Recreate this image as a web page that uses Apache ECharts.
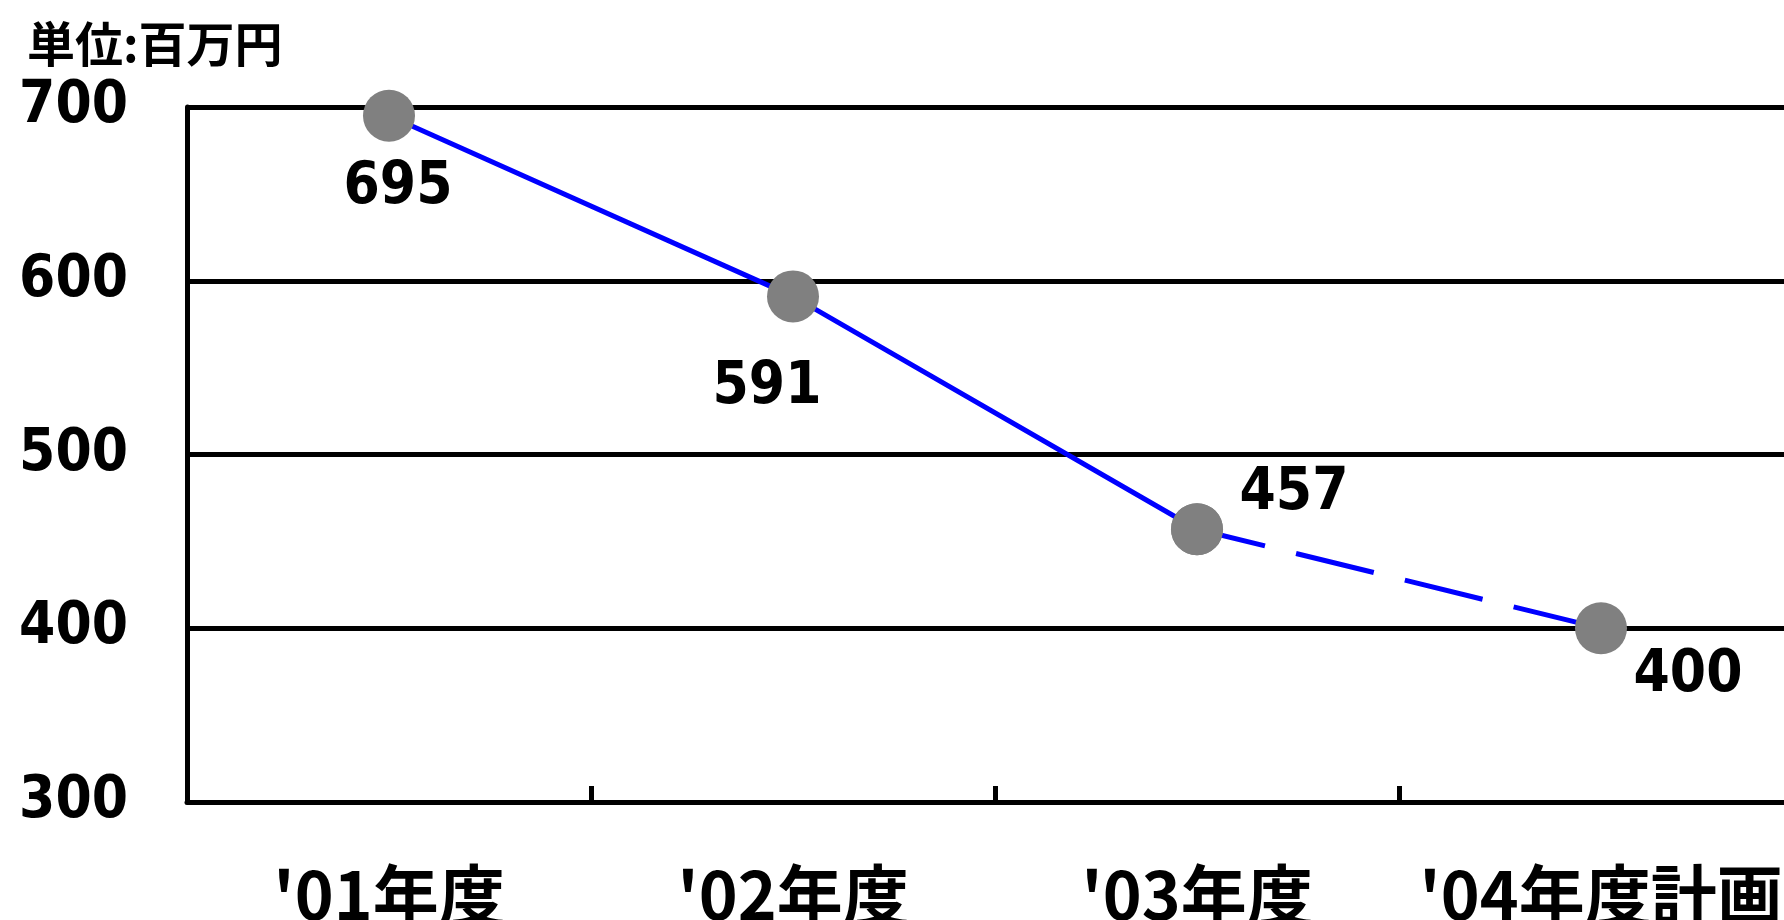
<!DOCTYPE html>
<html>
<head>
<meta charset="utf-8">
<script src="https://cdn.jsdelivr.net/npm/echarts@6/dist/echarts.min.js"></script>
<style>
html,body{margin:0;padding:0;background:#fff;overflow:hidden;width:1784px;height:920px;}
#chart{width:1804px;height:920px;}
</style>
</head>
<body>
<div id="chart"></div>
<script>
// ---- data ----
const categories = ["'01年度", "'02年度", "'03年度", "'04年度計画"];
const actualValues = [695, 591, 457, null];   // solid line (実績)
const planValues = [null, null, 457, 400];    // dashed line (計画)
const unitLabel = "単位:百万円";
const yMin = 300, yMax = 700, yStep = 100;

// ---- styling (label offsets relative to point centers) ----
const labelOffsets = [[9, 72], [-26, 92], [97, -35], [87, 48]];
const numFont = "'DejaVu Sans Condensed', 'Liberation Sans', sans-serif";
const cjkFont = "'Noto Sans CJK JP', sans-serif";

function buildData(values, labelIdx) {
  return values.map((v, i) => {
    if (v === null) return '-';
    const show = labelIdx.indexOf(i) >= 0;
    return {
      value: v,
      label: show ? {
        show: true,
        position: 'inside',
        offset: labelOffsets[i],
        formatter: '{c}',
        fontFamily: numFont,
        fontWeight: 'bold',
        fontSize: 58,
        color: '#000'
      } : { show: false }
    };
  });
}

const chart = echarts.init(document.getElementById('chart'));
chart.setOption({
  animation: false,
  backgroundColor: '#ffffff',
  title: {
    text: unitLabel,
    left: 27,
    top: 20,
    padding: 0,
    textStyle: { fontFamily: cjkFont, fontWeight: 'bold', fontSize: 48, color: '#000' }
  },
  grid: { left: 187, top: 107, width: 1616, bottom: 118, containLabel: false, outerBoundsMode: 'none' },
  xAxis: {
    type: 'category',
    data: categories,
    boundaryGap: true,
    axisLine: { show: true, lineStyle: { color: '#000', width: 5 } },
    axisTick: { show: true, inside: true, length: 16, interval: 0, lineStyle: { color: '#000', width: 5 } },
    axisLabel: {
      interval: 0,
      margin: 60,
      fontFamily: cjkFont,
      fontWeight: 'bold',
      fontSize: 66,
      color: '#000'
    },
    splitLine: { show: false }
  },
  yAxis: {
    type: 'value',
    min: yMin,
    max: yMax,
    interval: yStep,
    axisLine: { show: true, lineStyle: { color: '#000', width: 5 } },
    axisTick: { show: false },
    axisLabel: {
      margin: 59,
      fontFamily: numFont,
      fontWeight: 'bold',
      fontSize: 58,
      color: '#000'
    },
    splitLine: { show: true, lineStyle: { color: '#000', width: 5 } }
  },
  series: [
    {
      type: 'line',
      data: buildData(planValues, [3]),
      symbol: 'circle',
      symbolSize: 52,
      showAllSymbol: true,
      itemStyle: { color: '#808080' },
      lineStyle: { color: '#0000ff', width: 5, type: [80, 32], dashOffset: 10 },
      connectNulls: false,
      z: 2
    },
    {
      type: 'line',
      data: buildData(actualValues, [0, 1, 2]),
      symbol: 'circle',
      symbolSize: 52,
      showAllSymbol: true,
      itemStyle: { color: '#808080' },
      lineStyle: { color: '#0000ff', width: 5, type: 'solid' },
      connectNulls: false,
      z: 3
    }
  ]
});
</script>
</body>
</html>
